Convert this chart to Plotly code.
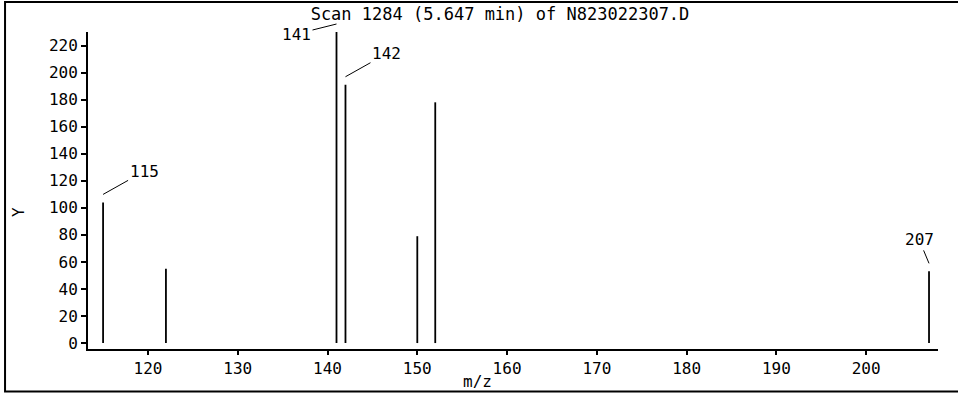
import plotly.graph_objects as go

# Mass spectrum peaks: m/z and abundance
mz = [115, 122, 141, 142, 150, 152, 207]
abundance = [104, 55, 230, 191, 79, 178, 53]

# Peaks that carry an m/z label, with pixel offsets of the label text
label_mz = [115, 141, 142, 207]
label_dx = [41, -40, 41, -10]
label_dy = [-23, 10, -23, -24]

x_ticks = [120, 130, 140, 150, 160, 170, 180, 190, 200]
y_ticks = [0, 20, 40, 60, 80, 100, 120, 140, 160, 180, 200, 220]

title_text = "Scan 1284 (5.647 min) of N823022307.D"
FONT = "DejaVu Sans Mono"

# Stick spectrum: one vertical segment per peak
xs, ys = [], []
for m, a in zip(mz, abundance):
    xs += [m, m, None]
    ys += [0, a, None]

fig = go.Figure()
fig.add_trace(go.Scatter(x=xs, y=ys, mode="lines",
                         line=dict(color="black", width=1.8),
                         hoverinfo="skip", showlegend=False))

annotations = []
for m, dx, dy in zip(label_mz, label_dx, label_dy):
    a = abundance[mz.index(m)]
    annotations.append(dict(
        x=m, y=a, xref="x", yref="y", text=str(m),
        showarrow=True, arrowhead=0, arrowwidth=1, arrowcolor="black",
        ax=dx, ay=dy, yshift=8,
        font=dict(family=FONT, size=16, color="black")))

# Axis titles
annotations.append(dict(x=0.4588, y=-0.101, xref="paper", yref="paper",
                        xanchor="center", yanchor="middle",
                        text="m/z", showarrow=False,
                        font=dict(family=FONT, size=16, color="black")))
annotations.append(dict(x=-0.0824, y=0.432, xref="paper", yref="paper",
                        xanchor="center", yanchor="middle",
                        text="Y", showarrow=False, textangle=-90,
                        font=dict(family=FONT, size=16, color="black")))

fig.update_layout(
    width=958, height=394,
    margin=dict(l=88, r=20, t=32, b=45),
    paper_bgcolor="white", plot_bgcolor="white",
    title=dict(text=title_text, x=0.4847, xref="paper", xanchor="center",
               y=1 - 14 / 394, yref="container", yanchor="middle",
               font=dict(family=FONT, size=17, color="black")),
    xaxis=dict(range=[113.32, 208], tickvals=x_ticks, showgrid=False,
               zeroline=False, showline=True, linecolor="black", linewidth=2,
               ticks="outside", ticklen=4, tickwidth=1.5, tickcolor="black",
               tickfont=dict(family=FONT, size=16, color="black")),
    yaxis=dict(range=[-4.4, 230], tickvals=y_ticks, showgrid=False,
               zeroline=False, showline=True, linecolor="black", linewidth=2,
               ticks="outside", ticklen=5, tickwidth=1.5, tickcolor="black",
               tickfont=dict(family=FONT, size=16, color="black")),
    annotations=annotations,
    shapes=[dict(type="rect", xref="paper", yref="paper",
                 x0=-0.0976, x1=1.1, y0=-0.134, y1=1.0946,
                 line=dict(color="black", width=2), layer="below")],
)

fig.write_html("out.html")
